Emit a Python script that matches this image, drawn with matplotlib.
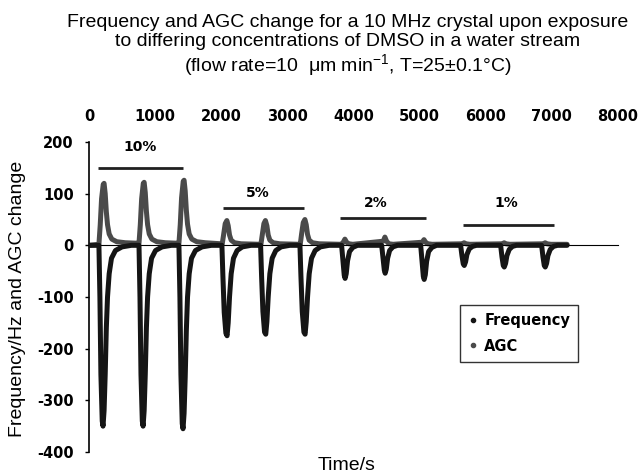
import matplotlib
matplotlib.use('Agg')
import matplotlib.pyplot as plt

plt.rcParams['font.family'] = ['Liberation Sans', 'DejaVu Sans']
plt.rcParams['mathtext.fontset'] = 'custom'
plt.rcParams['mathtext.rm'] = 'Liberation Sans'
plt.rcParams['mathtext.it'] = 'Liberation Sans:italic'

# frequency trace (time in s, change in Hz)
freq_t = [0, 150, 165, 180, 200, 212, 228, 245, 262, 280, 305, 340, 400, 500, 640,
          756, 771, 786, 806, 818, 834, 851, 868, 886, 911, 946, 1006, 1106, 1246,
          1360, 1375, 1390, 1410, 1422, 1438, 1455, 1472, 1490, 1515, 1550, 1610, 1710, 1850,
          2010, 2025, 2045, 2070, 2088, 2105, 2125, 2150, 2185, 2240, 2320, 2450,
          2595, 2610, 2630, 2655, 2673, 2690, 2710, 2735, 2770, 2825, 2905, 3035,
          3190, 3205, 3225, 3250, 3268, 3285, 3305, 3330, 3365, 3420, 3500, 3630,
          3820, 3840, 3860, 3873, 3890, 3910, 3940, 3990, 4060,
          4426, 4446, 4466, 4479, 4496, 4516, 4546, 4596, 4666,
          5016, 5036, 5056, 5069, 5086, 5106, 5136, 5186, 5256,
          5620, 5640, 5660, 5675, 5695, 5715, 5750, 5800, 5860,
          6225, 6245, 6265, 6280, 6300, 6320, 6355, 6405, 6465,
          6845, 6865, 6885, 6900, 6920, 6940, 6975, 7025, 7085, 7230]
freq_v = [0, 0, -100, -250, -340, -350, -320, -250, -160, -100, -55, -25, -10, -3, 0,
          0, -100, -250, -340, -350, -320, -250, -160, -100, -55, -25, -10, -3, 0,
          0, -100, -250, -345, -355, -325, -255, -165, -100, -55, -25, -10, -3, 0,
          0, -60, -130, -170, -175, -150, -100, -55, -25, -10, -3, 0,
          0, -60, -128, -168, -172, -148, -100, -55, -25, -10, -3, 0,
          0, -60, -128, -168, -172, -148, -100, -55, -25, -10, -3, 0,
          0, -30, -58, -64, -55, -30, -12, -4, 0,
          0, -25, -48, -54, -46, -25, -10, -3, 0,
          0, -30, -60, -66, -57, -31, -12, -4, 0,
          0, -20, -36, -39, -32, -18, -7, -2, 0,
          0, -22, -39, -42, -35, -20, -8, -2, 0,
          0, -22, -39, -42, -35, -20, -8, -2, 0, 0]

# AGC trace
agc_t = [0, 150, 170, 190, 215, 228, 245, 262, 280, 305, 345, 420, 550, 740,
         756, 776, 796, 821, 834, 851, 868, 886, 911, 951, 1026, 1156, 1346,
         1360, 1380, 1400, 1425, 1438, 1455, 1472, 1490, 1515, 1555, 1630, 1760, 2000,
         2015, 2035, 2060, 2085, 2105, 2125, 2150, 2200, 2300, 2590,
         2600, 2620, 2645, 2668, 2690, 2710, 2735, 2785, 2885, 3185,
         3195, 3215, 3240, 3265, 3285, 3305, 3330, 3380, 3480, 3820,
         3845, 3870, 3895, 3930, 3990,
         4450, 4475, 4500, 4535, 4600,
         5040, 5066, 5090, 5125, 5190,
         5650, 5672, 5700, 5760,
         6255, 6278, 6305, 6365,
         6875, 6898, 6925, 6985, 7230]
agc_v = [0, 2, 40, 90, 118, 120, 100, 65, 40, 22, 12, 7, 5, 4,
         4, 40, 90, 120, 122, 102, 66, 40, 22, 12, 7, 5, 4,
         4, 40, 92, 124, 126, 105, 68, 41, 22, 12, 7, 5, 3,
         3, 20, 42, 48, 38, 20, 10, 5, 3, 2,
         2, 20, 42, 48, 38, 20, 10, 5, 3, 2,
         2, 22, 44, 50, 40, 21, 10, 5, 3, 2,
         6, 12, 6, 3, 2,
         8, 16, 8, 3, 2,
         6, 11, 6, 3, 2,
         3, 5, 3, 2,
         3, 5, 3, 2,
         3, 5, 3, 2, 2]

# exposure periods
conc_labels = ['10%', '5%', '2%', '1%']
bar_start = [140, 2025, 3800, 5660]
bar_end = [1420, 3250, 5100, 7035]
bar_level = [150, 72, 52, 39]
label_t = [770, 2545, 4340, 6310]
label_v = [190, 101, 81, 81]

x_ticks = [0, 1000, 2000, 3000, 4000, 5000, 6000, 7000, 8000]
y_ticks = [-400, -300, -200, -100, 0, 100, 200]

fig = plt.figure(figsize=(6.4, 4.72), dpi=100)
ax = fig.add_axes([89 / 640, 20 / 472, 529 / 640, 310 / 472])

ax.plot(agc_t, agc_v, color='#4a4a4a', lw=3.6, solid_capstyle='round', zorder=2)
ax.plot(freq_t, freq_v, color='#151515', lw=3.6, solid_capstyle='round', zorder=3)

ax.hlines(bar_level, bar_start, bar_end, color='#202020', lw=2)
for lab, tx, ty in zip(conc_labels, label_t, label_v):
    ax.text(tx, ty, lab, ha='center', va='center', fontsize=10,
            family='DejaVu Sans', weight='bold')

# spines first: moving a spine resets the ticks
ax.spines['top'].set_visible(False)
ax.spines['right'].set_visible(False)
ax.spines['bottom'].set_position(('data', 0))
ax.spines['bottom'].set_linewidth(0.8)
ax.spines['left'].set_linewidth(1.2)

ax.set_xlim(0, 8000)
ax.set_ylim(-400, 200)
ax.xaxis.tick_top()
ax.tick_params(axis='x', length=0, pad=13)
ax.tick_params(axis='y', length=3, width=1, pad=8, direction='out')
tick_font = dict(family='DejaVu Sans', fontweight='bold', fontsize=10.5)
ax.set_xticks(x_ticks, labels=[str(v) for v in x_ticks], **tick_font)
ax.set_yticks(y_ticks, labels=[str(v) for v in y_ticks], **tick_font)

h1, = ax.plot([], [], 'o', color='#151515', ms=3)
h2, = ax.plot([], [], 'o', color='#4a4a4a', ms=3)
leg = ax.legend([h1, h2], ['Frequency', 'AGC'], loc='upper left',
                bbox_to_anchor=(453 / 640, 1 - 298 / 472), bbox_transform=fig.transFigure,
                prop={'family': 'DejaVu Sans', 'weight': 'bold', 'size': 10.5},
                frameon=True, fancybox=False, handlelength=0.6, handletextpad=0.5,
                labelspacing=0.7, borderpad=0.55)
leg.get_frame().set_edgecolor('black')
leg.get_frame().set_linewidth(1)

fig.text(348 / 640, 1 - 46 / 472,
         'Frequency and AGC change for a 10 MHz crystal upon exposure\n'
         'to differing concentrations of DMSO in a water stream\n'
         r'(flow rate=10  μm min$^{-1}$, T=25±0.1°C)',
         ha='center', va='center', fontsize=14, linespacing=1.1)
fig.text(18 / 640, 1 - 299 / 472, 'Frequency/Hz and AGC change',
         rotation=90, ha='center', va='center', fontsize=14)
fig.text(347 / 640, 1 - 465 / 472, 'Time/s', ha='center', va='center', fontsize=14)

fig.savefig('out.png', dpi=100)
